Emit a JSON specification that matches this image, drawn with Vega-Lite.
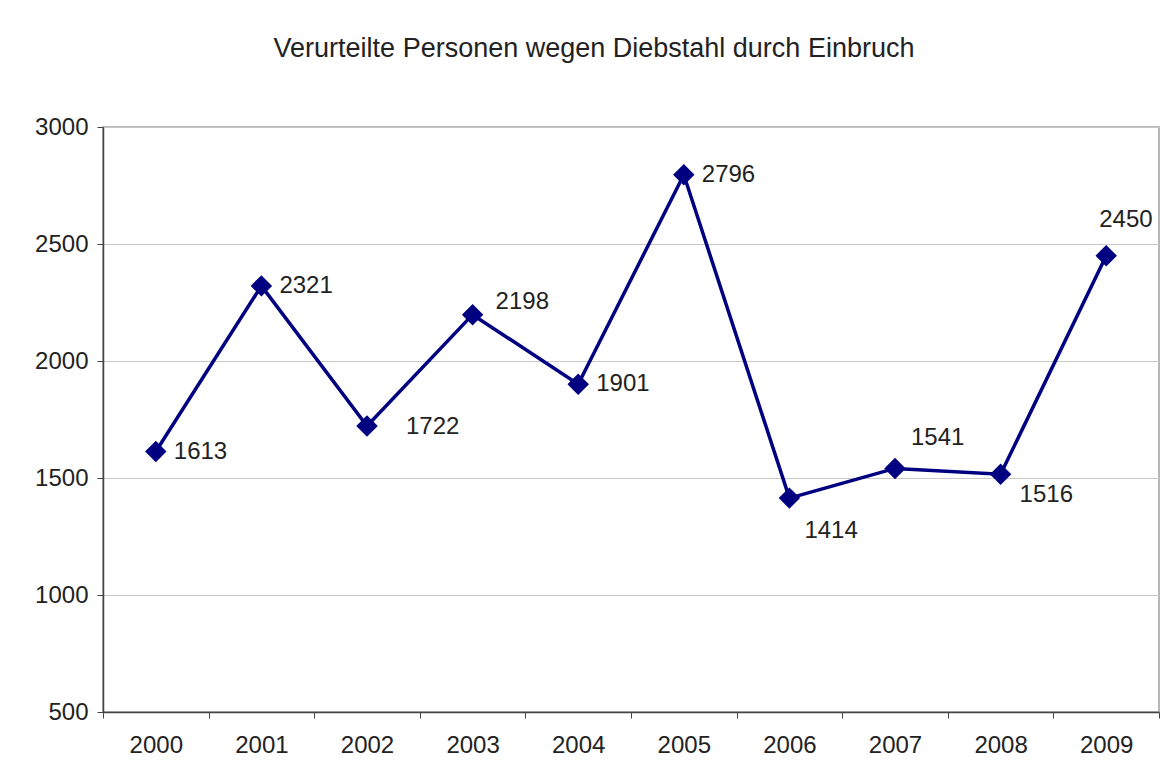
{
  "$schema": "https://vega.github.io/schema/vega-lite/v6.json",
  "width": 1056,
  "height": 585,
  "autosize": {"type": "none"},
  "padding": {"left": 103, "top": 127, "right": 9, "bottom": 72},
  "background": "white",
  "title": {
    "text": "Verurteilte Personen wegen Diebstahl durch Einbruch",
    "font": "Liberation Sans",
    "fontSize": 27,
    "fontWeight": "normal",
    "color": "#222222",
    "anchor": "middle",
    "dx": -37,
    "offset": 52
  },
  "config": {
    "view": {"stroke": "#a0a0a0", "strokeWidth": 1.5},
    "font": "Liberation Sans"
  },
  "data": {
    "values": [
      {"year": "2000", "value": 1613},
      {"year": "2001", "value": 2321},
      {"year": "2002", "value": 1722},
      {"year": "2003", "value": 2198},
      {"year": "2004", "value": 1901},
      {"year": "2005", "value": 2796},
      {"year": "2006", "value": 1414},
      {"year": "2007", "value": 1541},
      {"year": "2008", "value": 1516},
      {"year": "2009", "value": 2450}
    ]
  },
  "encoding": {
    "x": {
      "field": "year",
      "type": "ordinal",
      "scale": {"type": "band", "paddingInner": 0, "paddingOuter": 0},
      "axis": {
        "title": null,
        "labelAngle": 0,
        "labelFont": "Liberation Sans",
        "labelFontSize": 24,
        "labelColor": "#222222",
        "labelPadding": 15,
        "tickBand": "extent",
        "tickSize": 6,
        "tickColor": "#444444",
        "domainColor": "#444444",
        "domainWidth": 1.5,
        "grid": false
      }
    },
    "y": {
      "field": "value",
      "type": "quantitative",
      "scale": {"domain": [500, 3000], "nice": false, "zero": false},
      "axis": {
        "title": null,
        "format": "d",
        "values": [500, 1000, 1500, 2000, 2500, 3000],
        "labelFont": "Liberation Sans",
        "labelFontSize": 24,
        "labelColor": "#222222",
        "labelPadding": 9,
        "tickSize": 6,
        "tickColor": "#444444",
        "domainColor": "#444444",
        "domainWidth": 1.5,
        "gridColor": "#c8c8c8",
        "gridWidth": 1
      }
    }
  },
  "layer": [
    {
      "mark": {"type": "line", "color": "#000080", "strokeWidth": 3.5}
    },
    {
      "mark": {"type": "point", "shape": "diamond", "filled": true, "color": "#000080", "size": 460, "opacity": 1}
    },
    {
      "transform": [{"filter": {"field": "year", "oneOf": ["2000", "2001", "2004", "2005"]}}],
      "mark": {"type": "text", "align": "left", "baseline": "middle", "dx": 18, "dy": 0, "fontSize": 24, "color": "#222222", "font": "Liberation Sans"},
      "encoding": {"text": {"field": "value", "type": "quantitative"}}
    },
    {
      "transform": [{"filter": {"field": "year", "equal": "2002"}}],
      "mark": {"type": "text", "align": "left", "baseline": "middle", "dx": 39, "dy": 1, "fontSize": 24, "color": "#222222", "font": "Liberation Sans"},
      "encoding": {"text": {"field": "value", "type": "quantitative"}}
    },
    {
      "transform": [{"filter": {"field": "year", "equal": "2003"}}],
      "mark": {"type": "text", "align": "left", "baseline": "middle", "dx": 23, "dy": -13, "fontSize": 24, "color": "#222222", "font": "Liberation Sans"},
      "encoding": {"text": {"field": "value", "type": "quantitative"}}
    },
    {
      "transform": [{"filter": {"field": "year", "equal": "2006"}}],
      "mark": {"type": "text", "align": "left", "baseline": "middle", "dx": 15, "dy": 33, "fontSize": 24, "color": "#222222", "font": "Liberation Sans"},
      "encoding": {"text": {"field": "value", "type": "quantitative"}}
    },
    {
      "transform": [{"filter": {"field": "year", "equal": "2007"}}],
      "mark": {"type": "text", "align": "left", "baseline": "middle", "dx": 16, "dy": -30, "fontSize": 24, "color": "#222222", "font": "Liberation Sans"},
      "encoding": {"text": {"field": "value", "type": "quantitative"}}
    },
    {
      "transform": [{"filter": {"field": "year", "equal": "2008"}}],
      "mark": {"type": "text", "align": "left", "baseline": "middle", "dx": 19, "dy": 21, "fontSize": 24, "color": "#222222", "font": "Liberation Sans"},
      "encoding": {"text": {"field": "value", "type": "quantitative"}}
    },
    {
      "transform": [{"filter": {"field": "year", "equal": "2009"}}],
      "mark": {"type": "text", "align": "left", "baseline": "middle", "dx": -7, "dy": -36, "fontSize": 24, "color": "#222222", "font": "Liberation Sans"},
      "encoding": {"text": {"field": "value", "type": "quantitative"}}
    }
  ]
}
